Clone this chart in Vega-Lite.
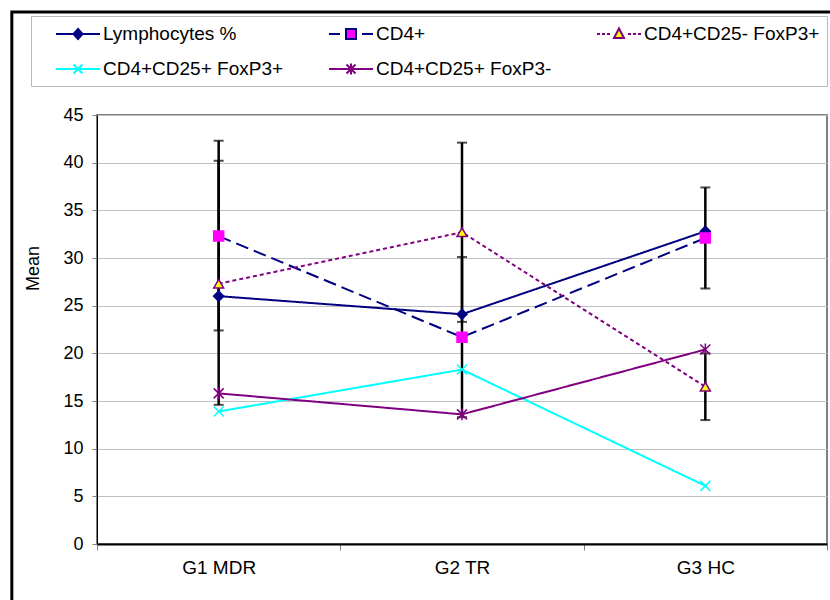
{
  "$schema": "https://vega.github.io/schema/vega-lite/v6.json",
  "width": 730,
  "height": 429,
  "autosize": "none",
  "padding": {"left": 97, "top": 115, "right": 3, "bottom": 56},
  "background": "white",
  "config": {
    "font": "Liberation Sans",
    "view": {"stroke": "#808080", "strokeWidth": 2},
    "axis": {"labelFont": "Liberation Sans", "labelColor": "#000", "titleColor": "#000", "labelFontSize": 18, "titleFontWeight": "normal", "titleFont": "Liberation Sans"}
  },
  "data": {
    "values": [
      {"group": "G1 MDR", "series": "Lymphocytes %", "mean": 26.0},
      {"group": "G1 MDR", "series": "CD4+", "mean": 32.3, "lo": 22.4, "hi": 42.3},
      {"group": "G1 MDR", "series": "CD4+CD25- FoxP3+", "mean": 27.3, "lo": 14.6, "hi": 40.2},
      {"group": "G1 MDR", "series": "CD4+CD25+ FoxP3+", "mean": 13.9},
      {"group": "G1 MDR", "series": "CD4+CD25+ FoxP3-", "mean": 15.8},
      {"group": "G2 TR", "series": "Lymphocytes %", "mean": 24.1},
      {"group": "G2 TR", "series": "CD4+", "mean": 21.7, "lo": 13.3, "hi": 30.1},
      {"group": "G2 TR", "series": "CD4+CD25- FoxP3+", "mean": 32.7, "lo": 23.3, "hi": 42.1},
      {"group": "G2 TR", "series": "CD4+CD25+ FoxP3+", "mean": 18.3},
      {"group": "G2 TR", "series": "CD4+CD25+ FoxP3-", "mean": 13.6},
      {"group": "G3 HC", "series": "Lymphocytes %", "mean": 32.8},
      {"group": "G3 HC", "series": "CD4+", "mean": 32.1, "lo": 26.8, "hi": 37.4},
      {"group": "G3 HC", "series": "CD4+CD25- FoxP3+", "mean": 16.5, "lo": 13.0, "hi": 20.0},
      {"group": "G3 HC", "series": "CD4+CD25+ FoxP3+", "mean": 6.1},
      {"group": "G3 HC", "series": "CD4+CD25+ FoxP3-", "mean": 20.4}
    ]
  },
  "encoding": {
    "x": {
      "field": "group", "type": "nominal", "bandPosition": 0.5,
      "scale": {"type": "band", "paddingInner": 0, "paddingOuter": 0, "domain": ["G1 MDR", "G2 TR", "G3 HC"]},
      "axis": {"title": null, "tickBand": "extent", "grid": false, "domainColor": "#000", "domainWidth": 2, "tickColor": "#808080", "tickSize": 6, "labelPadding": 8, "labelAngle": 0, "labelFontSize": 19}
    },
    "y": {
      "type": "quantitative",
      "scale": {"domain": [0, 45], "nice": false, "zero": true},
      "axis": {"title": "Mean", "values": [0, 5, 10, 15, 20, 25, 30, 35, 40, 45], "grid": true, "gridColor": "#c0c0c0", "gridWidth": 1, "domainColor": "#000", "domainWidth": 1, "tickColor": "#808080", "tickSize": 5, "labelPadding": 9, "titleFontSize": 18, "titleX": -59, "titleY": 153, "titleAngle": -90, "titleBaseline": "alphabetic", "titleAlign": "center"}
    }
  },
  "layer": [
    {
      "data": {"values": [{"frame": 1}]},
      "mark": {"type": "rect", "fill": null, "stroke": "#000", "strokeWidth": 3, "clip": false},
      "encoding": {
        "x": {"datum": "G1 MDR", "bandPosition": -0.35},
        "x2": {"datum": "G3 HC", "bandPosition": 1.5},
        "y": {"datum": 55.8},
        "y2": {"datum": -10}
      }
    },
    {
      "mark": {"type": "line", "strokeWidth": 2},
      "encoding": {
        "y": {"field": "mean", "type": "quantitative"},
        "color": {
          "field": "series", "type": "nominal",
          "scale": {"domain": ["Lymphocytes %", "CD4+", "CD4+CD25- FoxP3+", "CD4+CD25+ FoxP3+", "CD4+CD25+ FoxP3-"], "range": ["#000080", "#000080", "#800080", "#00FFFF", "#800080"]},
          "legend": {
            "title": null, "orient": "none", "direction": "horizontal", "legendX": -66, "legendY": -99, "columns": 3, "columnPadding": 27, "rowPadding": 14, "padding": 7,
            "strokeColor": "#b8b8b8", "fillColor": "white", "symbolSize": 400, "symbolStrokeWidth": 2, "labelFontSize": 19, "labelFont": "Liberation Sans", "labelColor": "#000", "labelOffset": 43, "labelLimit": 300,
            "encode": {
              "symbols": {
                "update": {
                  "shape": {"signal": "datum.value === 'Lymphocytes %' ? 'M0.7,0H5.1M2.9,-0.5L3.35,0L2.9,0.5L2.45,0Z' : datum.value === 'CD4+' ? 'M0.7,0H1.8M4.0,0H5.1M2.4,-0.5H3.4V0.5H2.4Z' : datum.value === 'CD4+CD25- FoxP3+' ? 'M0.7,0H1.0M1.2,0H1.5M1.7,0H2.0M3.8,0H4.1M4.3,0H4.6M4.8,0H5.1M2.9,-0.55L3.4,0.4H2.4Z' : datum.value === 'CD4+CD25+ FoxP3+' ? 'M0.7,0H5.1M2.45,-0.45L3.35,0.45M2.45,0.45L3.35,-0.45' : 'M0.7,0H5.1M2.45,-0.45L3.35,0.45M2.45,0.45L3.35,-0.45M2.9,-0.55V0.55'"},
                  "fill": {"signal": "datum.value === 'Lymphocytes %' ? '#000080' : datum.value === 'CD4+' ? '#FF00FF' : datum.value === 'CD4+CD25- FoxP3+' ? '#FFFF00' : 'transparent'"},
                  "opacity": {"value": 1}
                }
              }
            }
          }
        },
        "strokeDash": {
          "field": "series", "type": "nominal",
          "scale": {"domain": ["CD4+CD25+ FoxP3-", "CD4+CD25+ FoxP3+", "CD4+CD25- FoxP3+", "CD4+", "Lymphocytes %"], "range": [[1, 0], [1, 0], [4, 3], [13, 6], [1, 0]]},
          "legend": null
        }
      }
    },
    {
      "transform": [{"filter": "isValid(datum.lo)"}],
      "mark": {"type": "rule", "color": "#000", "strokeWidth": 2.5},
      "encoding": {
        "y": {"field": "lo", "type": "quantitative"},
        "y2": {"field": "hi"}
      }
    },
    {
      "transform": [{"filter": "isValid(datum.lo)"}],
      "mark": {"type": "tick", "color": "#000", "thickness": 2, "size": 10},
      "encoding": {"y": {"field": "lo", "type": "quantitative"}}
    },
    {
      "transform": [{"filter": "isValid(datum.hi)"}],
      "mark": {"type": "tick", "color": "#000", "thickness": 2, "size": 10},
      "encoding": {"y": {"field": "hi", "type": "quantitative"}}
    },
    {
      "mark": {"type": "point", "filled": true, "size": 100, "strokeWidth": 1.5, "opacity": 1},
      "encoding": {
        "y": {"field": "mean", "type": "quantitative"},
        "shape": {
          "field": "series", "type": "nominal", "legend": null,
          "scale": {"domain": ["CD4+CD25+ FoxP3-", "CD4+CD25+ FoxP3+", "CD4+CD25- FoxP3+", "CD4+", "Lymphocytes %"], "range": ["M-1,-1L1,1M-1,1L1,-1M0,-1.2V1.2", "M-1,-1L1,1M-1,1L1,-1", "triangle-up", "square", "diamond"]}
        },
        "fill": {
          "field": "series", "type": "nominal", "legend": null,
          "scale": {"domain": ["CD4+CD25+ FoxP3-", "CD4+CD25+ FoxP3+", "CD4+CD25- FoxP3+", "CD4+", "Lymphocytes %"], "range": ["transparent", "transparent", "#FFFF00", "#FF00FF", "#000080"]}
        },
        "stroke": {
          "field": "series", "type": "nominal", "legend": null,
          "scale": {"domain": ["CD4+CD25+ FoxP3-", "CD4+CD25+ FoxP3+", "CD4+CD25- FoxP3+", "CD4+", "Lymphocytes %"], "range": ["#800080", "#00FFFF", "#800080", "#FF00FF", "#000080"]}
        }
      }
    }
  ]
}
